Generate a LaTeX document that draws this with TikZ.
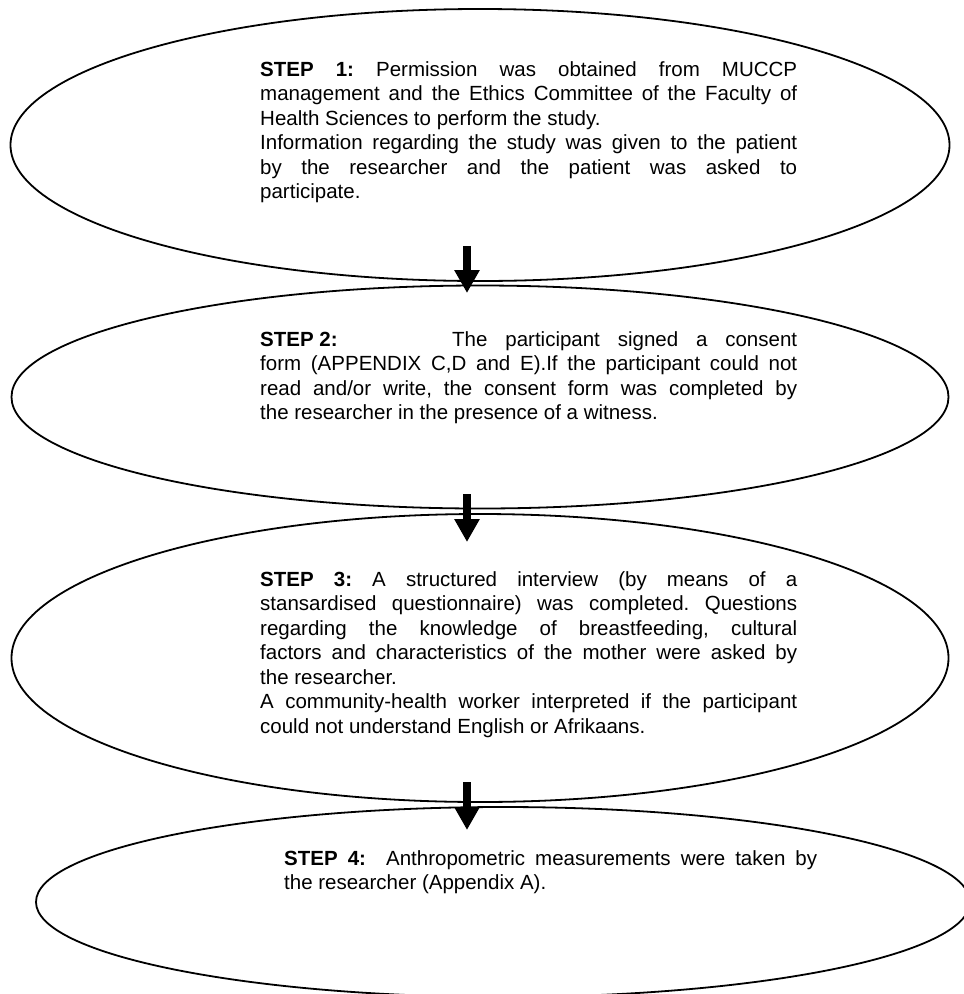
\documentclass[tikz,border=0pt]{standalone}
\usepackage{fontspec}
\setmainfont{Liberation Sans}
\usepackage{tikz}
\usetikzlibrary{shapes.geometric,arrows.meta}
\frenchspacing

\begin{document}
\begin{tikzpicture}[x=1pt,y=-1pt,
		stage/.style={draw,ellipse,line width=1.8pt,inner sep=0pt},
		steptext/.style={anchor=north west,inner sep=0pt,text width=537pt,align=justify,
			font=\fontsize{20.5}{24.5}\selectfont},
		flow/.style={line width=8pt,-{Triangle[width=24pt,length=23pt]}}]
			\useasboundingbox (0,0) rectangle (964,994);
			\node[stage,minimum width=939pt,minimum height=272pt] (ell1) at (480,145) {};
			\node[stage,minimum width=937pt,minimum height=223pt] (ell2) at (480,397) {};
			\node[stage,minimum width=937pt,minimum height=288pt] (ell3) at (480,658) {};
			\node[stage,minimum width=934pt,minimum height=190pt] (ell4) at (503,902) {};
			
			\node[steptext] (txt1) at (260,61) {\parindent=0pt
				\textbf{STEP 1:} Permission was obtained from MUCCP\linebreak
				management and the Ethics Committee of the Faculty of\linebreak
				Health Sciences to perform the study.\par
				Information regarding the study was given to the patient\linebreak
				by the researcher and the patient was asked to\linebreak
				participate.};
			\node[steptext] (txt2) at (260,331) {\parindent=0pt
				\makebox[192pt][l]{\textbf{STEP 2:}}The participant signed a consent\linebreak
				form (APPENDIX C,D and E).If the participant could not\linebreak
				read and/or write, the consent form was completed by\linebreak
				the researcher in the presence of a witness.};
			\node[steptext] (txt3) at (260,571) {\parindent=0pt
				\textbf{STEP 3:} A structured interview (by means of a\linebreak
				stansardised questionnaire) was completed. Questions\linebreak
				regarding the knowledge of breastfeeding, cultural\linebreak
				factors and characteristics of the mother were asked by\linebreak
				the researcher.\par
				A community-health worker interpreted if the participant\linebreak
				could not understand English or Afrikaans.};
			\node[steptext,text width=533pt] (txt4) at (284,850) {\parindent=0pt
				\textbf{STEP 4:}\ \ Anthropometric measurements were taken by\linebreak
				the researcher (Appendix A).};
			
			\coordinate (from1) at (467,246);
			\coordinate (to1) at (467,293);
			\coordinate (from2) at (467,494);
			\coordinate (to2) at (467,542);
			\coordinate (from3) at (467,782);
			\coordinate (to3) at (467,830);
			\draw[flow] (from1) -- (to1);
			\draw[flow] (from2) -- (to2);
			\draw[flow] (from3) -- (to3);
		\end{tikzpicture}
\end{document}
